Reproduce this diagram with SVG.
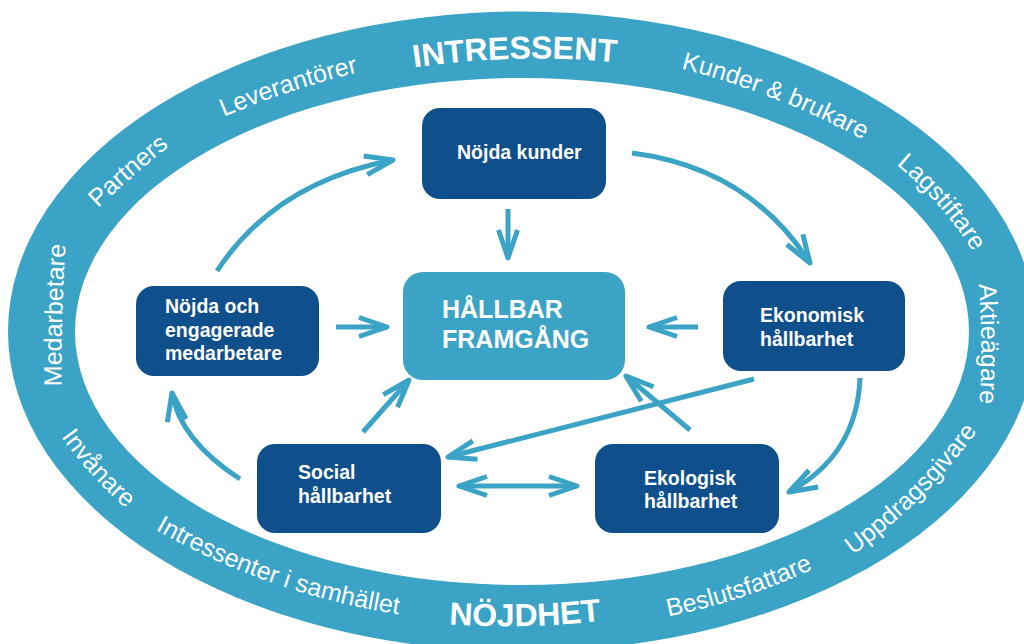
<svg xmlns="http://www.w3.org/2000/svg" width="1024" height="644" viewBox="0 0 1024 644">
<style>
.ring{fill:#3AA3C6;fill-rule:evenodd}
.lbl{font-family:"Liberation Sans",Arial,sans-serif;font-size:25px;fill:#fff;text-anchor:middle}
.big{font-family:"Liberation Sans",Arial,sans-serif;font-size:32px;font-weight:bold;fill:#fff;text-anchor:middle}
.box{fill:#0E4F8C}
.core{fill:#3AA3C6}
.bt{font-family:"Liberation Sans",Arial,sans-serif;font-size:19.5px;font-weight:bold;fill:#fff}
.ct{font-family:"Liberation Sans",Arial,sans-serif;font-size:25px;font-weight:bold;fill:#fff}
.con{fill:none;stroke:#3AA3C6;stroke-width:5}
</style>
<defs>
<marker id="ah" viewBox="-32 -13 38 26" refX="0" refY="0" markerWidth="38" markerHeight="26" markerUnits="userSpaceOnUse" orient="auto-start-reverse" overflow="visible">
<path d="M-28,-9.5 L0,0 L-28,9.5" fill="none" stroke="#3AA3C6" stroke-width="5" stroke-linejoin="round"/>
</marker>
<path id="c2000" d="M-149.86,5.62 A2000 2000 0 0 1 149.86,5.62"/>
<path id="c1000" d="M-149.44,11.23 A1000 1000 0 0 1 149.44,11.23"/>
<path id="c900" d="M-149.30,12.47 A900 900 0 0 1 149.30,12.47"/>
<path id="c850" d="M-149.23,13.20 A850 850 0 0 1 149.23,13.20"/>
<path id="c820" d="M-149.17,13.69 A820 820 0 0 1 149.17,13.69"/>
<path id="c800" d="M-149.12,14.02 A800 800 0 0 1 149.12,14.02"/>
<path id="c370" d="M-145.93,29.99 A370 370 0 0 1 145.93,29.99"/>
<path id="a850" d="M-149.23,-13.20 A850 850 0 0 0 149.23,-13.20"/>
<path id="a720" d="M-148.92,-15.57 A720 720 0 0 0 148.92,-15.57"/>
<path id="a650" d="M-148.67,-17.23 A650 650 0 0 0 148.67,-17.23"/>
<path id="a550" d="M-148.15,-20.33 A550 550 0 0 0 148.15,-20.33"/>
<path id="a400" d="M-146.51,-27.80 A400 400 0 0 0 146.51,-27.80"/>
</defs>
<rect width="1024" height="644" fill="#fff"/>
<g id="ring">
<path class="ring" d="M8,331.5 A514,320 0 1 1 1036,331.5 A514,320 0 1 1 8,331.5 Z M75,331.5 A447,253.5 0 1 0 969,331.5 A447,253.5 0 1 0 75,331.5 Z"/>
<g transform="translate(62.3,315.3) rotate(-88.4)"><text class="lbl"><textPath href="#c2000" startOffset="50%">Medarbetare</textPath></text></g>
<g transform="translate(132.9,176.4) rotate(-41.1)"><text class="lbl"><textPath href="#c1000" startOffset="50%">Partners</textPath></text></g>
<g transform="translate(290.1,91.8) rotate(-18.3)"><text class="lbl"><textPath href="#c900" startOffset="50%">Leverantörer</textPath></text></g>
<g transform="translate(515,58.9) rotate(-1.5)"><text class="big"><textPath href="#c850" startOffset="50%">INTRESSENT</textPath></text></g>
<g transform="translate(774.3,98.7) rotate(21.4)"><text class="lbl"><textPath href="#c820" startOffset="50%">Kunder &amp; brukare</textPath></text></g>
<g transform="translate(938.1,205.2) rotate(48.7)"><text class="lbl"><textPath href="#c370" startOffset="50%">Lagstiftare</textPath></text></g>
<g transform="translate(981.3,344) rotate(89.6)"><text class="lbl"><textPath href="#c800" startOffset="50%">Aktieägare</textPath></text></g>
<g transform="translate(91.4,474.5) rotate(47.9)"><text class="lbl"><textPath href="#a400" startOffset="50%">Invånare</textPath></text></g>
<g transform="translate(273,583) rotate(19.2)"><text class="lbl"><textPath href="#a720" startOffset="50%">Intressenter i samhället</textPath></text></g>
<g transform="translate(525.3,626) rotate(-1.4)"><text class="big"><textPath href="#a850" startOffset="50%">NÖJDHET</textPath></text></g>
<g transform="translate(742,597) rotate(-18.2)"><text class="lbl"><textPath href="#a650" startOffset="50%">Beslutsfattare</textPath></text></g>
<g transform="translate(920,498) rotate(-44.8)"><text class="lbl"><textPath href="#a550" startOffset="50%">Uppdragsgivare</textPath></text></g>
</g>
<g id="connectors" class="con" marker-end="url(#ah)">
<path d="M508,209 L508,258"/>
<path d="M336,327 L387,327"/>
<path d="M698,327 L649,327"/>
<path d="M363,432 L409,380"/>
<path d="M690,430 L626,376"/>
<path d="M754,379 L448,457"/>
<path d="M459,486 L577,486" marker-start="url(#ah)"/>
<path d="M632,153 Q749,168 810,263"/>
<path d="M860,378 Q857,455 789,492"/>
<path d="M240,479 Q180,440 172,393"/>
<path d="M217,271 Q275,182.5 393,160"/>
</g>
<g id="n-kunder"><rect class="box" x="422" y="108" width="184" height="91" rx="18"/><text class="bt" x="457" y="159">Nöjda kunder</text></g>
<g id="n-hallbar"><rect class="core" x="403" y="272" width="222" height="108" rx="20"/><text class="ct" x="442" y="318">HÅLLBAR</text><text class="ct" x="442" y="348">FRAMGÅNG</text></g>
<g id="n-medarbetare"><rect class="box" x="136" y="286" width="183" height="90" rx="18"/><text class="bt" x="165" y="313">Nöjda och</text><text class="bt" x="165" y="336.5">engagerade</text><text class="bt" x="165" y="360">medarbetare</text></g>
<g id="n-ekonomisk"><rect class="box" x="723" y="281" width="182" height="90" rx="18"/><text class="bt" x="760" y="322">Ekonomisk</text><text class="bt" x="760" y="346">hållbarhet</text></g>
<g id="n-social"><rect class="box" x="257" y="444" width="184" height="89" rx="18"/><text class="bt" x="298" y="479">Social</text><text class="bt" x="298" y="503">hållbarhet</text></g>
<g id="n-ekologisk"><rect class="box" x="595" y="444" width="184" height="89" rx="18"/><text class="bt" x="644" y="485">Ekologisk</text><text class="bt" x="644" y="508">hållbarhet</text></g>
</svg>
